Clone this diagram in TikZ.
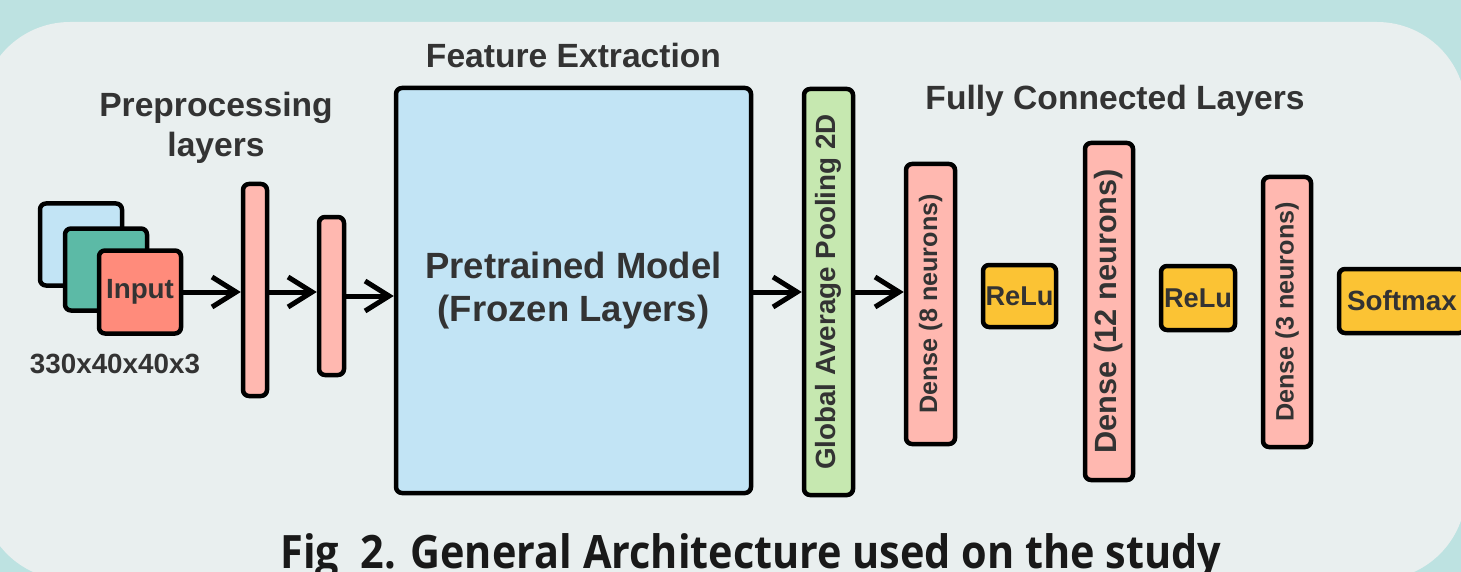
\documentclass[tikz,border=0pt]{standalone}
\usepackage{fontspec}
\setmainfont{Liberation Sans}
\newfontfamily\capfont{Open Sans}
\usetikzlibrary{arrows.meta}

\definecolor{bgteal}{HTML}{BDE2E1}
\definecolor{panel}{HTML}{E9EFEF}
\definecolor{inblue}{HTML}{C2E4F5}
\definecolor{ingreen}{HTML}{5CBAA6}
\definecolor{inred}{HTML}{FF8B7B}
\definecolor{layerpink}{HTML}{FFB8B0}
\definecolor{poolgreen}{HTML}{C6E8B0}
\definecolor{actyellow}{HTML}{FBC334}
\definecolor{txtgray}{HTML}{333333}

\tikzset{
  layer/.style={draw=black, line width=4.5pt, rounded corners=6pt, inner sep=0pt, text=txtgray},
  head/.style={text=txtgray, font=\fontsize{33.6}{40}\selectfont\bfseries, align=center, anchor=base},
  small/.style={font=\fontsize{27.8}{30}\selectfont\bfseries},
}

\begin{document}
\begin{tikzpicture}[x=1pt, y=-1pt, >={Straight Barb[length=24pt,width=30pt]}]
\useasboundingbox (0,0) rectangle (1461,572);

% Hintergrund
\fill[bgteal] (0,0) rectangle (1461,572);
\fill[panel, rounded corners=89pt] (-19,22) rectangle (1466,580);

% Eingabe (drei Bilder)
\node[layer, fill=inblue, minimum width=82pt, minimum height=82pt] (inb) at (81,244.5) {};
\node[layer, fill=ingreen, minimum width=82pt, minimum height=82pt] (ing) at (106,269.5) {};
\node[layer, fill=inred, minimum width=82pt, minimum height=83pt, small] (inp) at (140,292) {Input};
\node[text=txtgray, small, anchor=base] (insize) at (115,373) {330x40x40x3};

% Vorverarbeitung
\node[head] (prehead) at (216,157) {Preprocessing\\layers};
\node[layer, fill=layerpink, minimum width=24pt, minimum height=212pt] (pre1) at (255,290) {};
\node[layer, fill=layerpink, minimum width=25pt, minimum height=158pt] (pre2) at (331.5,296) {};

% Merkmalsextraktion
\node[head] (feathead) at (573.5,68) {Feature Extraction};
\node[layer, fill=inblue, minimum width=355pt, minimum height=405pt, align=center,
      font=\fontsize{36.5}{43}\selectfont\bfseries] (model) at (573.5,290.5) {Pretrained Model\\(Frozen Layers)};

% Pooling
\node[layer, fill=poolgreen, minimum width=49pt, minimum height=406pt, small] (pool) at (828.5,292)
  {\rotatebox{90}{Global Average Pooling 2D}};

% vollverbundene Schichten
\node[head] (fchead) at (1115,110) {Fully Connected Layers};
\node[layer, fill=layerpink, minimum width=49pt, minimum height=280pt,
      font=\fontsize{25.2}{28}\selectfont\bfseries] (dense8) at (930.5,304) {\rotatebox{90}{Dense (8 neurons)}};
\node[layer, fill=actyellow, minimum width=73pt, minimum height=62pt,
      font=\fontsize{27.2}{30}\selectfont\bfseries] (relu1) at (1019.5,296) {ReLu};
\node[layer, fill=layerpink, minimum width=48pt, minimum height=337pt,
      font=\fontsize{30.7}{34}\selectfont\bfseries] (dense12) at (1109,311.5) {\rotatebox{90}{Dense (12 neurons)}};
\node[layer, fill=actyellow, minimum width=74pt, minimum height=64pt,
      font=\fontsize{27.2}{30}\selectfont\bfseries] (relu2) at (1198,298) {ReLu};
\node[layer, fill=layerpink, minimum width=48pt, minimum height=270pt,
      font=\fontsize{25.2}{28}\selectfont\bfseries] (dense3) at (1287,312) {\rotatebox{90}{Dense (3 neurons)}};
\node[layer, fill=actyellow, minimum width=126pt, minimum height=64pt, small] (soft) at (1402,301) {Softmax};

% Pfeile
\draw[->, line width=5pt] (inp.east) -- (pre1.west |- inp.east);
\draw[->, line width=5pt] (pre1.east |- inp.east) -- (pre2.west |- inp.east);
\draw[->, line width=5pt] (pre2.east) -- (model.west |- pre2.east);
\draw[->, line width=5pt] (model.east |- pool.west) -- (pool.west);
\draw[->, line width=5pt] (pool.east) -- (dense8.west |- pool.east);

% Bildunterschrift
\node[font=\capfont\bfseries\fontsize{46}{50}\selectfont, text=black!90, anchor=base] (caption) at (751,568)
  {\scalebox{0.90}[1]{Fig\ \ 2. General Architecture used on the study}};

\end{tikzpicture}
\end{document}
